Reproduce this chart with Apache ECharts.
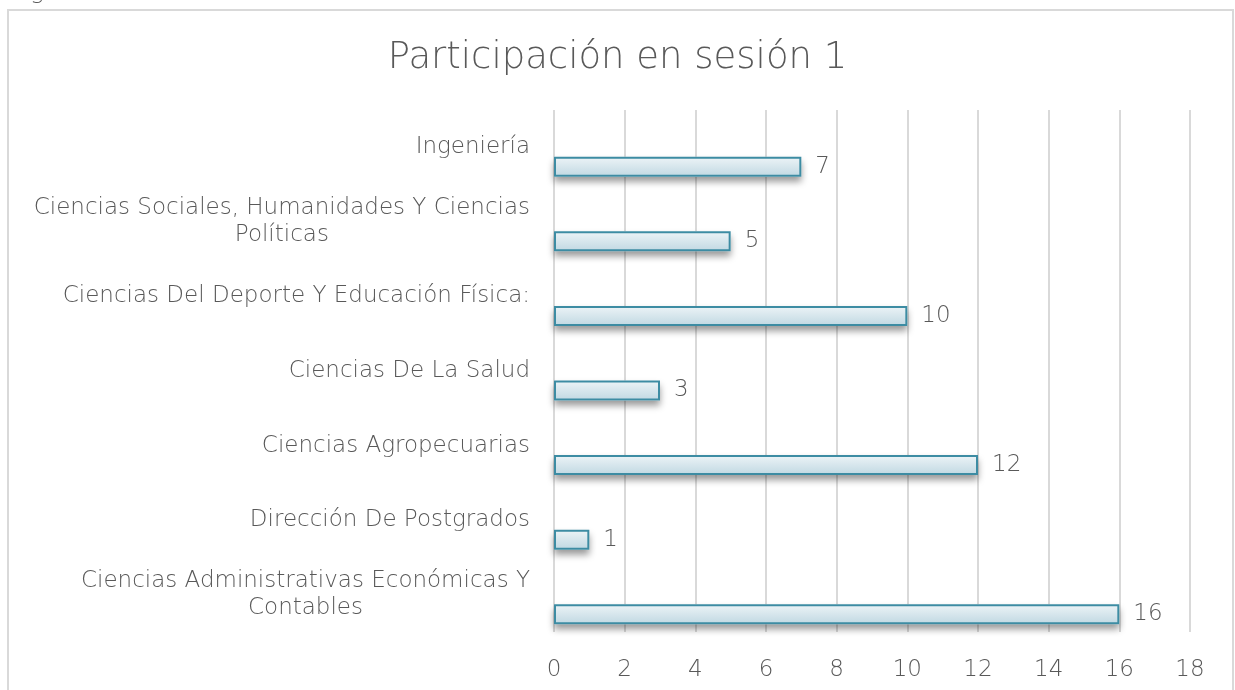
<!DOCTYPE html>
<html>
<head>
<meta charset="utf-8">
<title>Participación en sesión 1</title>
<script src="https://cdn.jsdelivr.net/npm/echarts@6/dist/echarts.min.js"></script>
<style>
  html, body { margin: 0; padding: 0; background: #fff; }
  #chart { width: 1235px; height: 690px; }
</style>
</head>
<body>
<div id="chart"></div>
<script>
// categories, listed bottom to top as they appear on the axis
var categories = [
  'Ciencias Administrativas Económicas Y\nContables',
  'Dirección De Postgrados',
  'Ciencias Agropecuarias',
  'Ciencias De La Salud',
  'Ciencias Del Deporte Y Educación Física:',
  'Ciencias Sociales, Humanidades Y Ciencias\nPolíticas',
  'Ingeniería'
];
var participantes = [16, 1, 12, 3, 10, 5, 7];
var xTicks = { min: 0, max: 18, interval: 2 };

var font = 'DejaVu Sans';
var gray = '#595959';

var chart = echarts.init(document.getElementById('chart'));

var vacios = participantes.map(function () { return null; });

var option = {
  backgroundColor: '#fff',
  animation: false,
  title: {
    text: 'Participación en sesión 1',
    left: 'center',
    top: 35,
    textStyle: { color: gray, fontSize: 37, fontWeight: 200, fontFamily: font }
  },
  graphic: [
    { type: 'rect', shape: { x: 8, y: 10, width: 1225, height: 720 },
      style: { fill: 'none', stroke: '#d9d9d9', lineWidth: 2 }, silent: true },
    { type: 'text', left: 30, top: -20,
      style: { text: 'g', fill: gray, font: '200 24px "DejaVu Sans"' }, silent: true }
  ],
  grid: { left: 554, right: 45, top: 110, bottom: 58 },
  xAxis: {
    type: 'value',
    min: xTicks.min,
    max: xTicks.max,
    interval: xTicks.interval,
    axisLine: { show: false },
    axisTick: { show: false },
    splitLine: { show: true, lineStyle: { color: '#d9d9d9', width: 2 } },
    axisLabel: { color: gray, fontSize: 23, fontWeight: 200, fontFamily: font, margin: 27 }
  },
  yAxis: [{
    type: 'category',
    data: categories,
    axisLine: { show: false },
    axisTick: { show: false },
    axisLabel: {
      margin: 24,
      formatter: function (v) {
        return v.split('\n').map(function (s) { return '{c|' + s + '}'; }).join('\n');
      },
      rich: {
        c: { align: 'center', color: gray, fontSize: 23, fontWeight: 200, fontFamily: font, lineHeight: 27 }
      }
    }
  }, {
    // twin axis, so the bar can sit on top of its own shadow
    type: 'category',
    data: categories,
    position: 'left',
    show: false
  }],
  series: [{
    // empty series: takes the upper slot of each band
    type: 'bar', yAxisIndex: 0, data: vacios, barWidth: 20, silent: true
  }, {
    // shadow under each bar
    type: 'bar', yAxisIndex: 0, data: participantes, barWidth: 20, barGap: '95%', silent: true,
    itemStyle: {
      color: '#ffffff',
      shadowColor: 'rgba(0,0,0,0.4)',
      shadowBlur: 7,
      shadowOffsetY: 5
    }
  }, {
    type: 'bar', yAxisIndex: 1, data: vacios, barWidth: 20, silent: true
  }, {
    name: 'Participantes',
    type: 'bar',
    yAxisIndex: 1,
    data: participantes,
    barWidth: 20,
    barGap: '95%',
    itemStyle: {
      color: new echarts.graphic.LinearGradient(0, 0, 0, 1, [
        { offset: 0, color: '#edf4f7' },
        { offset: 1, color: '#c0d8e2' }
      ]),
      borderColor: '#3d8ca3',
      borderWidth: 2
    },
    label: {
      show: true,
      position: 'right',
      distance: 14,
      color: gray,
      fontSize: 23,
      fontWeight: 200,
      fontFamily: font
    }
  }]
};

chart.setOption(option);
</script>
</body>
</html>
